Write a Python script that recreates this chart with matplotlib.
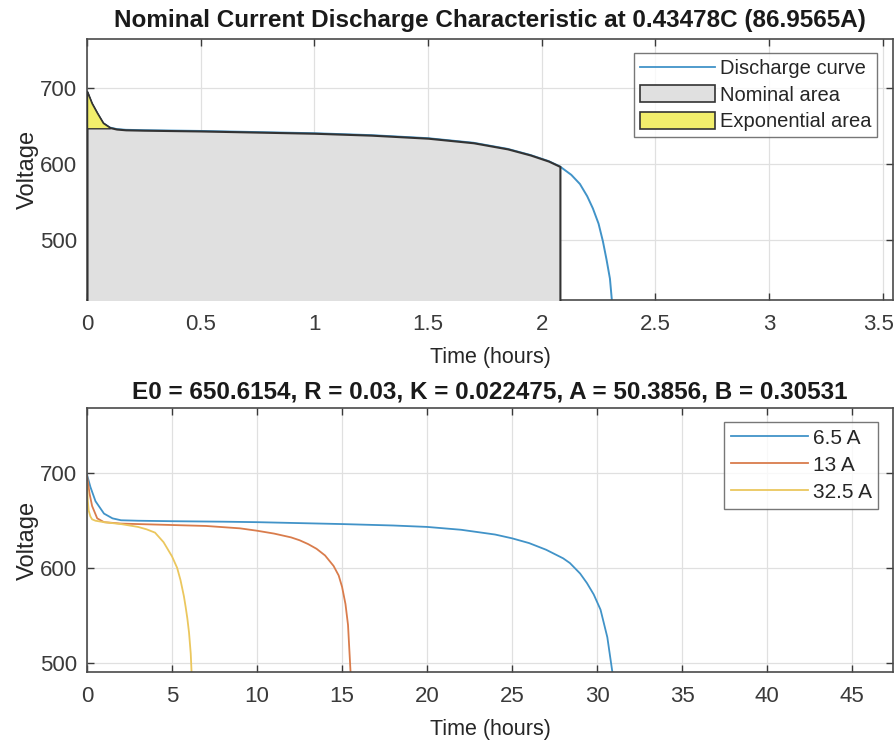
import matplotlib
matplotlib.use("Agg")
import matplotlib.pyplot as plt
import matplotlib.transforms as mtrans
import numpy as np
from matplotlib.patches import Patch
from matplotlib.lines import Line2D

plt.rcParams['font.family'] = ['Liberation Sans', 'DejaVu Sans']

# ---------------- data ----------------
top_title = "Nominal Current Discharge Characteristic at 0.43478C (86.9565A)"
bottom_title = "E0 = 650.6154, R = 0.03, K = 0.022475, A = 50.3856, B = 0.30531"

# Top: discharge curve at nominal current (hours, volts)
t_dis = [0, 0.02, 0.044, 0.07, 0.10, 0.13, 0.17, 0.25, 0.5, 0.75, 1.0, 1.25,
         1.5, 1.7, 1.85, 1.95, 2.03, 2.08, 2.13, 2.168, 2.2, 2.225, 2.25,
         2.269, 2.285, 2.30, 2.309]
v_dis = [695, 680, 667, 654, 648, 646, 645, 644.5, 643.5, 642, 640.5, 638,
         634, 628, 620, 612, 604, 597, 586, 574, 558, 542, 522,
         499, 475, 450, 420]
t_nominal_end = 2.08
t_exp_end = 0.10
v_exp = 647

# Bottom: discharge curves at different currents
t_65 = [0, 0.2, 0.5, 1, 1.5, 2, 3, 5, 8, 10, 12.5, 15, 18, 20, 22, 24, 25,
        26, 27, 28, 28.4, 29, 29.4, 29.8, 30.2, 30.6, 30.9]
v_65 = [698, 685, 670, 657, 652, 650, 649.5, 649, 648.5, 648, 647, 646,
        644.5, 643, 640, 635, 631, 626, 619, 610, 605, 594, 584, 572, 556,
        527, 490]
t_13 = [0, 0.15, 0.3, 0.6, 1, 2, 3, 5, 7, 9, 10, 11, 12, 12.5, 13, 13.5, 14,
        14.5, 14.8, 15.0, 15.2, 15.35, 15.5]
v_13 = [697, 678, 665, 652, 648, 646.5, 646, 645, 644, 641.5, 639, 636, 632,
        629, 625, 620, 613, 602, 592, 580, 562, 540, 490]
t_325 = [0, 0.05, 0.1, 0.2, 0.3, 0.5, 1, 2, 3, 3.5, 4, 4.5, 5, 5.3, 5.5, 5.7,
         5.8, 5.9, 6.0, 6.1, 6.15]
v_325 = [690, 670, 660, 654, 651, 649.5, 648, 646, 643, 640.5, 637, 627, 612,
         600, 587, 570, 559, 547, 532, 510, 490]
curve_labels = ["6.5 A", "13 A", "32.5 A"]

# ---------------- style ----------------
c_blue = '#4193c8'
c_orange = '#d97c4c'
c_yellow = '#ebc75e'
c_txt = '#262626'
c_grid = '#e0e0e0'
c_gray_fill = '#e0e0e0'
c_yel_fill = '#f2ee6c'

W, H = 896, 740
fig = plt.figure(figsize=(W / 100, H / 100), dpi=100)
fig.patch.set_facecolor('white')


def ax_rect(l, r, t, b):
    return [l / W, 1 - b / H, (r - l) / W, (b - t) / H]


def style(ax):
    ax.grid(True, color=c_grid, linewidth=0.9)
    ax.set_axisbelow(True)
    for s in ax.spines.values():
        s.set_color('#4a4a4a')
        s.set_linewidth(1.2)
    ax.tick_params(direction='in', top=True, right=True, labelsize=16,
                   colors='#3a3a3a', length=5, width=1.0)
    ax.tick_params(axis='x', pad=10)
    ax.tick_params(axis='y', pad=7)


def make_legend(ax, handles, labels, fs, anchor):
    leg = ax.legend(handles, labels, loc='upper right', bbox_to_anchor=anchor,
                    fontsize=fs, frameon=True, fancybox=False,
                    edgecolor='#555555', handlelength=3.7, handleheight=0.9,
                    handletextpad=0.25, borderpad=0.3, labelspacing=0.35,
                    borderaxespad=0)
    leg.get_frame().set_linewidth(1.0)
    for t in leg.get_texts():
        t.set_color(c_txt)
    return leg


# ---------- top axes ----------
ax1 = fig.add_axes(ax_rect(87, 893, 39, 300))
t_dis_a = np.array(t_dis)
v_dis_a = np.array(v_dis)
ax1.plot(t_dis_a, v_dis_a, color=c_blue, linewidth=1.4, zorder=2)
m_nom = t_dis_a <= t_nominal_end
ax1.fill_between(t_dis_a[m_nom], 400, v_dis_a[m_nom], facecolor=c_gray_fill,
                 edgecolor='#333333', linewidth=1.5, zorder=3)
m_exp = t_dis_a <= t_exp_end
ax1.fill_between(t_dis_a[m_exp], v_exp, v_dis_a[m_exp], facecolor=c_yel_fill,
                 edgecolor='#333333', linewidth=1.0, zorder=4)
ax1.set_xlim(0, 3.545)
ax1.set_ylim(422, 764)
ax1.set_xticks([0, 0.5, 1, 1.5, 2, 2.5, 3, 3.5])
ax1.set_xticklabels(['0', '0.5', '1', '1.5', '2', '2.5', '3', '3.5'])
ax1.set_yticks([500, 600, 700])
style(ax1)
# nudge the last tick label so it stays inside the figure
last = ax1.get_xticklabels()[-1]
last.set_transform(last.get_transform() +
                   mtrans.ScaledTranslation(-4 / 100, 0, fig.dpi_scale_trans))
ax1.set_title(top_title, fontsize=17.5, fontweight='bold', color='#1a1a1a', pad=9)
ax1.set_xlabel('Time (hours)', fontsize=15.5, color=c_txt, labelpad=9)
ax1.set_ylabel('Voltage', fontsize=17, color=c_txt, labelpad=1)
h1 = [Line2D([], [], color=c_blue, linewidth=1.3),
      Patch(facecolor=c_gray_fill, edgecolor='#333333', linewidth=1.2),
      Patch(facecolor=c_yel_fill, edgecolor='#333333', linewidth=1.2)]
make_legend(ax1, h1, ['Discharge curve', 'Nominal area', 'Exponential area'],
            14.5, (0.9805, 0.946))

# ---------- bottom axes ----------
ax2 = fig.add_axes(ax_rect(87, 893, 408, 672))
l1, = ax2.plot(t_65, v_65, color=c_blue, linewidth=1.3)
l2, = ax2.plot(t_13, v_13, color=c_orange, linewidth=1.3)
l3, = ax2.plot(t_325, v_325, color=c_yellow, linewidth=1.3)
ax2.set_xlim(0, 47.4)
ax2.set_ylim(490.5, 768)
ax2.set_xticks(np.arange(0, 46, 5))
ax2.set_yticks([500, 600, 700])
style(ax2)
ax2.set_title(bottom_title, fontsize=17.5, fontweight='bold', color='#1a1a1a', pad=7)
ax2.set_xlabel('Time (hours)', fontsize=15.5, color=c_txt, labelpad=9)
ax2.set_ylabel('Voltage', fontsize=17, color=c_txt, labelpad=1)
make_legend(ax2, [l1, l2, l3], curve_labels, 15, (0.9815, 0.947))

fig.savefig('out.png', dpi=100, facecolor='white')
